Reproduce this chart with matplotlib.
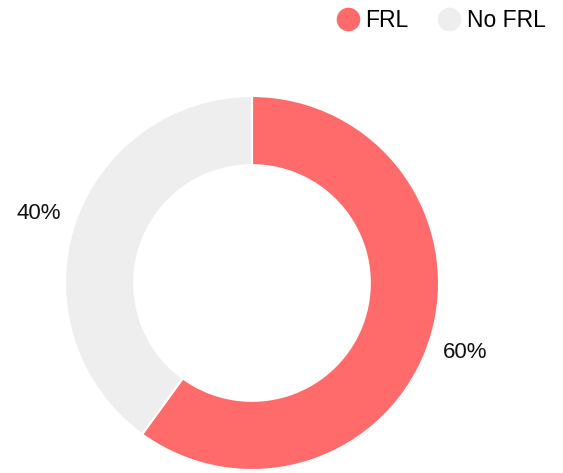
import matplotlib
matplotlib.use("Agg")
import matplotlib.pyplot as plt
from matplotlib.lines import Line2D

categories = ["FRL", "No FRL"]
values = [60, 40]
colors = ["#ff6b6b", "#eeeeee"]

plt.rcParams['font.family'] = ['Liberation Sans', 'DejaVu Sans']

W, H = 563, 473
fig = plt.figure(figsize=(W / 100, H / 100), dpi=100)
cx, cy, R = 252, 283, 187
ax = fig.add_axes([(cx - R) / W, (H - cy - R) / H, 2 * R / W, 2 * R / H])

wedges, texts, autotexts = ax.pie(
    values, colors=colors, startangle=90, counterclock=False, radius=1,
    wedgeprops=dict(width=0.37, edgecolor='white', linewidth=1.5),
    autopct='%d%%', pctdistance=1.2,
    textprops=dict(fontsize=16, color='#111111'))
for t in autotexts:
    t.set_ha('center')
    t.set_va('center')
ax.set_xlim(-1, 1)
ax.set_ylim(-1, 1)
ax.set_aspect('equal')
ax.axis('off')

handles = [Line2D([0], [0], marker='o', linestyle='none', markersize=16,
                  markerfacecolor=c, markeredgecolor=c) for c in colors]
fig.legend(handles, categories, loc='upper right', bbox_to_anchor=(0.969, 0.981),
           ncol=2, frameon=False, fontsize=16.5, handletextpad=0.25,
           columnspacing=1.3, handlelength=1.0, borderaxespad=0.0,
           borderpad=0.0)

fig.savefig("out.png", dpi=100)
